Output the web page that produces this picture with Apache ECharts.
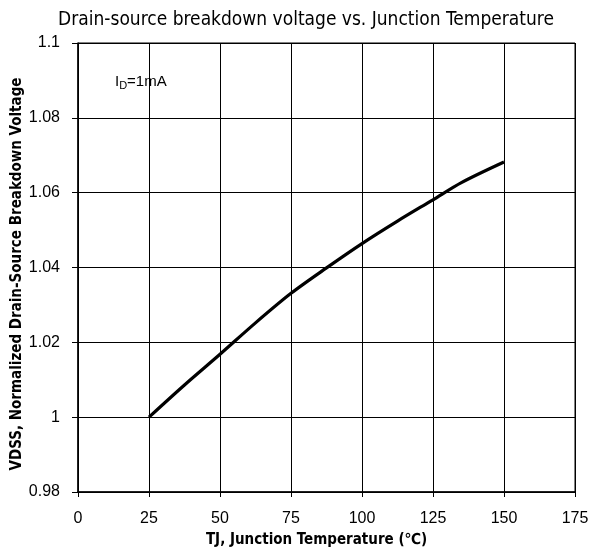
<!DOCTYPE html>
<html>
<head>
<meta charset="utf-8">
<script src="https://cdn.jsdelivr.net/npm/echarts@6/dist/echarts.min.js"></script>
<style>html,body{margin:0;padding:0;background:#fff}#c{width:589px;height:554px}</style>
</head>
<body>
<div id="c"></div>
<script>
const titleText = 'Drain-source breakdown voltage vs. Junction Temperature';
const xAxisName = 'TJ, Junction Temperature (\u2103)';
const yAxisName = 'VDSS, Normalized Drain-Source Breakdown Voltage';
const temps = [25, 37.5, 50, 62.5, 75, 87.5, 100, 112.5, 125, 135, 150];
const vdss  = [1.0, 1.0086, 1.0168, 1.0252, 1.0331, 1.0399, 1.0464, 1.0524, 1.0581, 1.0627, 1.0682];
const xTicks = [0, 25, 50, 75, 100, 125, 150, 175];
const yTicks = [0.98, 1, 1.02, 1.04, 1.06, 1.08, 1.1];

const narrow = "'Liberation Sans Narrow', 'Arial Narrow', 'DejaVu Sans Condensed', sans-serif";
const sans = "'Liberation Sans', Arial, sans-serif";

const chart = echarts.init(document.getElementById('c'), null, {renderer: 'canvas'});
chart.setOption({
  animation: false,
  backgroundColor: '#fff',
  title: {
    text: titleText, left: 301, top: 6, textAlign: 'center',
    textStyle: {fontFamily: narrow, fontSize: 19, fontWeight: 'normal', color: '#000'}
  },
  grid: {left: 78, right: 14, top: 43, bottom: 62, show: true, borderColor: '#000', borderWidth: 1,
    containLabel: false, outerBoundsMode: 'none'},
  xAxis: {
    type: 'value', min: xTicks[0], max: xTicks[xTicks.length - 1], interval: 25,
    name: xAxisName, nameLocation: 'middle', nameGap: 41,
    nameTextStyle: {fontFamily: narrow, fontSize: 15, fontWeight: 'bold', color: '#000', padding: [0, 20, 0, 0]},
    axisLine: {show: true, onZero: false, lineStyle: {color: '#000', width: 1.5}},
    axisTick: {show: true, length: 5, lineStyle: {color: '#000'}},
    axisLabel: {margin: 19, fontFamily: sans, fontSize: 16, color: '#000'},
    splitLine: {show: true, lineStyle: {color: '#000', width: 1}}
  },
  yAxis: {
    type: 'value', min: yTicks[0], max: yTicks[yTicks.length - 1], interval: 0.02,
    name: yAxisName, nameLocation: 'middle', nameGap: 53, nameMoveOverlap: false,
    nameTextStyle: {fontFamily: narrow, fontSize: 15, fontWeight: 'bold', color: '#000', padding: [0, 13, 0, 0]},
    axisLine: {show: true, onZero: false, lineStyle: {color: '#000', width: 1.5}},
    axisTick: {show: true, length: 6, lineStyle: {color: '#000'}},
    axisLabel: {margin: 18, fontFamily: sans, fontSize: 16, color: '#000',
      formatter: v => String(parseFloat(v.toFixed(2)))},
    splitLine: {show: true, lineStyle: {color: '#000', width: 1}}
  },
  graphic: [{
    type: 'text', left: 115, top: 74,
    style: {
      text: '{m|I}{s|D}{m|=1mA}',
      rich: {
        m: {fontFamily: sans, fontSize: 15, fill: '#000'},
        s: {fontFamily: sans, fontSize: 11, fill: '#000', verticalAlign: 'bottom', padding: [9, 0, 0, 0]}
      }
    }
  }],
  series: [{
    type: 'line', showSymbol: false, smooth: 0.3,
    data: temps.map((t, i) => [t, vdss[i]]),
    lineStyle: {color: '#000', width: 3.2}
  }]
});
</script>
</body>
</html>
